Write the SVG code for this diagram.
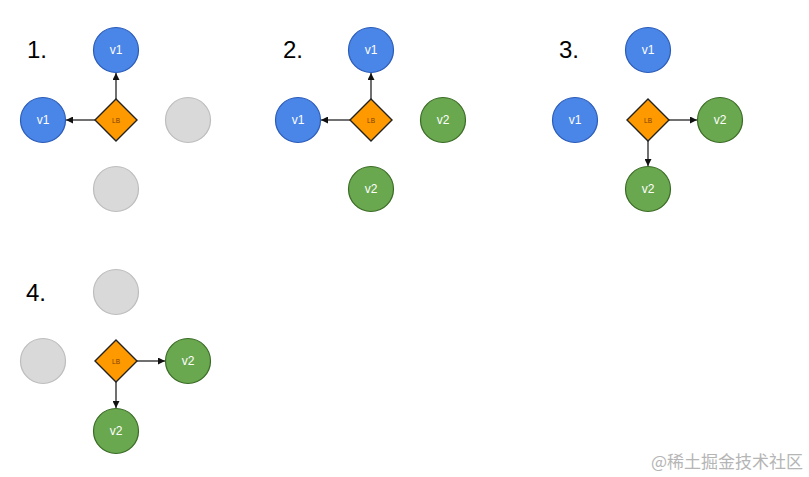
<svg xmlns="http://www.w3.org/2000/svg" width="809" height="477" viewBox="0 0 809 477">
<defs>
<style>
.blue{fill:#4a86e8;stroke:#2a5bb8;stroke-width:1.2}
.green{fill:#6aa84f;stroke:#3a6b25;stroke-width:1.2}
.gray{fill:#d9d9d9;stroke:#bdbdbd;stroke-width:1.2}
.lb{fill:#ff9900;stroke:#222;stroke-width:1.4}
.nt{font-family:"Liberation Sans",Arial,sans-serif;font-size:12px;fill:#fff;text-anchor:middle;dominant-baseline:central}
.lbt{font-family:"Liberation Sans",Arial,sans-serif;font-size:6.5px;fill:#7a3e00;text-anchor:middle;dominant-baseline:central}
.num{font-family:"Liberation Sans",Arial,sans-serif;font-size:24px;fill:#000}
.edge{stroke:#111;stroke-width:1.2;fill:none;marker-end:url(#ah)}
.wm{font-family:"Noto Sans CJK SC",sans-serif;font-size:17px;fill:#b5b5b5}
</style>
<marker id="ah" viewBox="0 0 10 10" refX="10" refY="5" markerWidth="7" markerHeight="7" orient="auto" markerUnits="userSpaceOnUse">
<path d="M0,0 L10,5 L0,10 z" fill="#111"/>
</marker>
</defs>

<text class="num" x="27" y="58">1.</text>
<text class="num" x="283" y="58">2.</text>
<text class="num" x="559" y="58">3.</text>
<text class="num" x="26" y="301">4.</text>

<g id="connectors">
<line class="edge" x1="116" y1="99" x2="116" y2="73"/>
<line class="edge" x1="95" y1="120" x2="66" y2="120"/>
<line class="edge" x1="371" y1="99" x2="371" y2="73"/>
<line class="edge" x1="350" y1="120" x2="321" y2="120"/>
<line class="edge" x1="669" y1="120" x2="697" y2="120"/>
<line class="edge" x1="648" y1="141" x2="648" y2="166"/>
<line class="edge" x1="137" y1="361" x2="165" y2="361"/>
<line class="edge" x1="116" y1="382" x2="116" y2="408"/>
</g>

<!-- Panel 1 -->
<g id="p1-top"><circle class="blue" cx="116" cy="50" r="22.5"/><text class="nt" x="116" y="50">v1</text></g>
<g id="p1-left"><circle class="blue" cx="43" cy="120" r="22.5"/><text class="nt" x="43" y="120">v1</text></g>
<g id="p1-right"><circle class="gray" cx="188" cy="120" r="22.5"/></g>
<g id="p1-bottom"><circle class="gray" cx="116" cy="189" r="22.5"/></g>
<g id="p1-lb"><polygon class="lb" points="116,99 137,120 116,141 95,120"/><text class="lbt" x="116" y="120">LB</text></g>

<!-- Panel 2 -->
<g id="p2-top"><circle class="blue" cx="371" cy="50" r="22.5"/><text class="nt" x="371" y="50">v1</text></g>
<g id="p2-left"><circle class="blue" cx="298" cy="120" r="22.5"/><text class="nt" x="298" y="120">v1</text></g>
<g id="p2-right"><circle class="green" cx="443" cy="120" r="22.5"/><text class="nt" x="443" y="120">v2</text></g>
<g id="p2-bottom"><circle class="green" cx="371" cy="189" r="22.5"/><text class="nt" x="371" y="189">v2</text></g>
<g id="p2-lb"><polygon class="lb" points="371,99 392,120 371,141 350,120"/><text class="lbt" x="371" y="120">LB</text></g>

<!-- Panel 3 -->
<g id="p3-top"><circle class="blue" cx="648" cy="50" r="22.5"/><text class="nt" x="648" y="50">v1</text></g>
<g id="p3-left"><circle class="blue" cx="575" cy="120" r="22.5"/><text class="nt" x="575" y="120">v1</text></g>
<g id="p3-right"><circle class="green" cx="720" cy="120" r="22.5"/><text class="nt" x="720" y="120">v2</text></g>
<g id="p3-bottom"><circle class="green" cx="648" cy="189" r="22.5"/><text class="nt" x="648" y="189">v2</text></g>
<g id="p3-lb"><polygon class="lb" points="648,99 669,120 648,141 627,120"/><text class="lbt" x="648" y="120">LB</text></g>

<!-- Panel 4 -->
<g id="p4-top"><circle class="gray" cx="116" cy="292" r="22.5"/></g>
<g id="p4-left"><circle class="gray" cx="43" cy="361" r="22.5"/></g>
<g id="p4-right"><circle class="green" cx="188" cy="361" r="22.5"/><text class="nt" x="188" y="361">v2</text></g>
<g id="p4-bottom"><circle class="green" cx="116" cy="431" r="22.5"/><text class="nt" x="116" y="431">v2</text></g>
<g id="p4-lb"><polygon class="lb" points="116,340 137,361 116,382 95,361"/><text class="lbt" x="116" y="361">LB</text></g>

<text class="wm" x="651" y="468">@稀土掘金技术社区</text>
</svg>
